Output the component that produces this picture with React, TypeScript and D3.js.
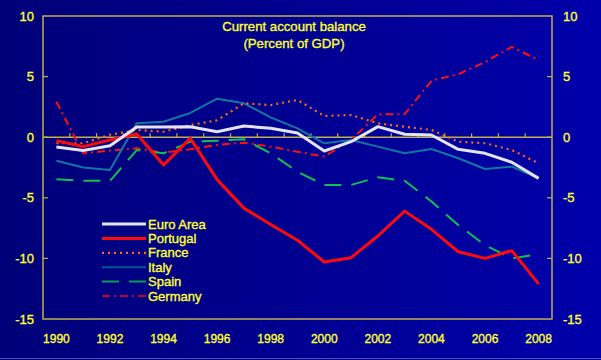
import * as d3 from "d3";
import { useEffect, useRef } from "react";

const years = d3.range(1990, 2009);

const euroArea = [-0.8, -1.1, -0.7, 0.85, 0.85, 0.87, 0.45, 0.92, 0.73, 0.35, -1.14, -0.37, 0.87, 0.24, 0.18, -1.0, -1.33, -2.07, -3.4];
const portugal = [-0.29, -0.78, -0.23, 0.26, -2.3, -0.1, -3.5, -5.85, -7.2, -8.5, -10.3, -9.94, -8.15, -6.1, -7.6, -9.45, -10.0, -9.36, -12.1];
const france = [-0.5, -0.5, 0.2, 0.6, 0.45, 1.0, 1.4, 2.8, 2.65, 3.07, 1.75, 1.83, 1.15, 0.87, 0.6, -0.37, -0.5, -1.06, -2.15];
const italy = [-1.94, -2.5, -2.7, 1.15, 1.28, 2.0, 3.18, 2.8, 1.64, 0.73, -0.5, -0.23, -0.78, -1.33, -0.97, -1.74, -2.62, -2.43, -3.4];
const spain = [-3.47, -3.6, -3.6, -1.06, -1.33, -0.37, -0.29, -0.17, -1.33, -2.85, -3.94, -3.94, -3.3, -3.6, -5.3, -7.25, -8.9, -10.0, -9.64];
const germany = [2.93, -1.33, -1.1, -0.92, -1.28, -1.0, -0.64, -0.45, -0.78, -1.2, -1.6, -0.23, 1.9, 1.9, 4.66, 5.2, 6.2, 7.45, 6.37];

const yTicks = [10, 5, 0, -5, -10, -15];
const xTickLabels = [1990, 1992, 1994, 1996, 1998, 2000, 2002, 2004, 2006, 2008];
const titleLines = ["Current account balance", "(Percent of GDP)"];

// drawing order: last one on top
const series = [
  { name: "Germany", values: germany, color: "#ff1010", legendColor: "#c00030", width: 2, dash: "8,4,2,4" },
  { name: "Spain", values: spain, color: "#10c050", legendColor: "#00a050", width: 2, dash: "17,10" },
  { name: "Italy", values: italy, color: "#1078a0", legendColor: "#005890", width: 2, dash: null },
  { name: "France", values: france, color: "#ff6a10", legendColor: "#ff6a10", width: 2.2, dash: "2,4" },
  { name: "Portugal", values: portugal, color: "#ff0a0a", legendColor: "#ff0a0a", width: 3, dash: null },
  { name: "Euro Area", values: euroArea, color: "#e4e4ee", legendColor: "#e4e4ee", width: 3, dash: null },
];
const legendOrder = ["Euro Area", "Portugal", "France", "Italy", "Spain", "Germany"];

const W = 601;
const H = 360;
const FONT = "'Liberation Sans', Arial, sans-serif";
const YELLOW = "#ffff30";
const FRAME = "#c0b050";

const App = () => {
  const svgRef = useRef(null);

  useEffect(() => {
    const svg = d3.select(svgRef.current);
    svg.selectAll("*").remove();

    const margin = { top: 16, left: 43, right: 49, bottom: 41 };

    // background
    const defs = svg.append("defs");
    const grad = defs.append("linearGradient").attr("id", "bg").attr("x1", "0").attr("x2", "1").attr("y1", "0").attr("y2", "0");
    grad.append("stop").attr("offset", "0%").attr("stop-color", "#000078");
    grad.append("stop").attr("offset", "100%").attr("stop-color", "#0000aa");
    svg.append("rect").attr("width", W).attr("height", H).attr("fill", "url(#bg)");
    svg.append("line").attr("x1", 0).attr("x2", W).attr("y1", H - 1.5).attr("y2", H - 1.5).attr("stroke", "#5050b8").attr("stroke-width", 1);

    const x = d3.scaleLinear().domain([1989.5, 2008.5]).range([margin.left, W - margin.right]);
    const y = d3.scaleLinear().domain([-15, 10]).range([H - margin.bottom, margin.top]);

    // frame
    svg
      .append("rect")
      .attr("x", x(1989.5))
      .attr("y", y(10))
      .attr("width", x(2008.5) - x(1989.5))
      .attr("height", y(-15) - y(10))
      .attr("fill", "none")
      .attr("stroke", FRAME)
      .attr("stroke-width", 1.5);

    // zero line
    svg
      .append("line")
      .attr("x1", x(1989.5))
      .attr("x2", x(2008.5))
      .attr("y1", y(0))
      .attr("y2", y(0))
      .attr("stroke", FRAME)
      .attr("stroke-width", 1.5);

    // small ticks on the zero line between years
    svg
      .selectAll("xTick")
      .data(d3.range(1990.5, 2008, 1))
      .enter()
      .append("line")
      .attr("x1", (d) => x(d))
      .attr("x2", (d) => x(d))
      .attr("y1", y(0))
      .attr("y2", y(0) - 4)
      .attr("stroke", FRAME)
      .attr("stroke-width", 1.2);

    // y ticks both sides, pointing inward
    yTicks.slice(1, -1).forEach((t) => {
      svg.append("line").attr("x1", x(1989.5)).attr("x2", x(1989.5) + 5).attr("y1", y(t)).attr("y2", y(t)).attr("stroke", FRAME).attr("stroke-width", 1.2);
      svg.append("line").attr("x1", x(2008.5)).attr("x2", x(2008.5) - 5).attr("y1", y(t)).attr("y2", y(t)).attr("stroke", FRAME).attr("stroke-width", 1.2);
    });

    // text helper: slight stroke to mimic the heavier original rendering
    const styleText = (sel, size) =>
      sel
        .attr("fill", YELLOW)
        .attr("stroke", YELLOW)
        .attr("stroke-width", 0.35)
        .attr("font-size", size)
        .attr("font-family", FONT);

    // y labels
    styleText(
      svg
        .selectAll("yLabelLeft")
        .data(yTicks)
        .enter()
        .append("text")
        .attr("x", 34)
        .attr("y", (d) => y(d))
        .attr("dy", "0.35em")
        .attr("text-anchor", "end"),
      13
    ).text((d) => d);
    styleText(
      svg
        .selectAll("yLabelRight")
        .data(yTicks)
        .enter()
        .append("text")
        .attr("x", 563)
        .attr("y", (d) => y(d))
        .attr("dy", "0.35em")
        .attr("text-anchor", "start"),
      13
    ).text((d) => d);

    // x labels
    styleText(
      svg
        .selectAll("xLabel")
        .data(xTickLabels)
        .enter()
        .append("text")
        .attr("x", (d) => x(d))
        .attr("y", 343)
        .attr("text-anchor", "middle"),
      12
    ).text((d) => d);

    // title
    styleText(
      svg
        .selectAll("title")
        .data(titleLines)
        .enter()
        .append("text")
        .attr("x", 294)
        .attr("y", (d, i) => 31 + i * 17)
        .attr("text-anchor", "middle"),
      13.2
    ).text((d) => d);

    // lines
    const line = d3
      .line()
      .x((d, i) => x(years[i]))
      .y((d) => y(d));

    svg
      .selectAll("series")
      .data(series)
      .enter()
      .append("path")
      .attr("d", (d) => line(d.values))
      .attr("fill", "none")
      .attr("stroke", (d) => d.color)
      .attr("stroke-width", (d) => d.width)
      .attr("stroke-dasharray", (d) => d.dash)
      .attr("stroke-linejoin", "round");

    // legend
    const legend = svg.append("g");
    legendOrder.forEach((name, i) => {
      const s = series.find((d) => d.name === name);
      const ly = 224 + i * 14.4;
      legend
        .append("line")
        .attr("x1", 102)
        .attr("x2", 146)
        .attr("y1", ly)
        .attr("y2", ly)
        .attr("stroke", s.legendColor)
        .attr("stroke-width", s.width)
        .attr("stroke-dasharray", s.dash);
      styleText(legend.append("text").attr("x", 148).attr("y", ly).attr("dy", "0.35em"), 13).text(name);
    });
  }, []);

  return <svg ref={svgRef} width={W} height={H} style={{ position: "absolute", left: 0, top: 0 }}></svg>;
};

export default App;
